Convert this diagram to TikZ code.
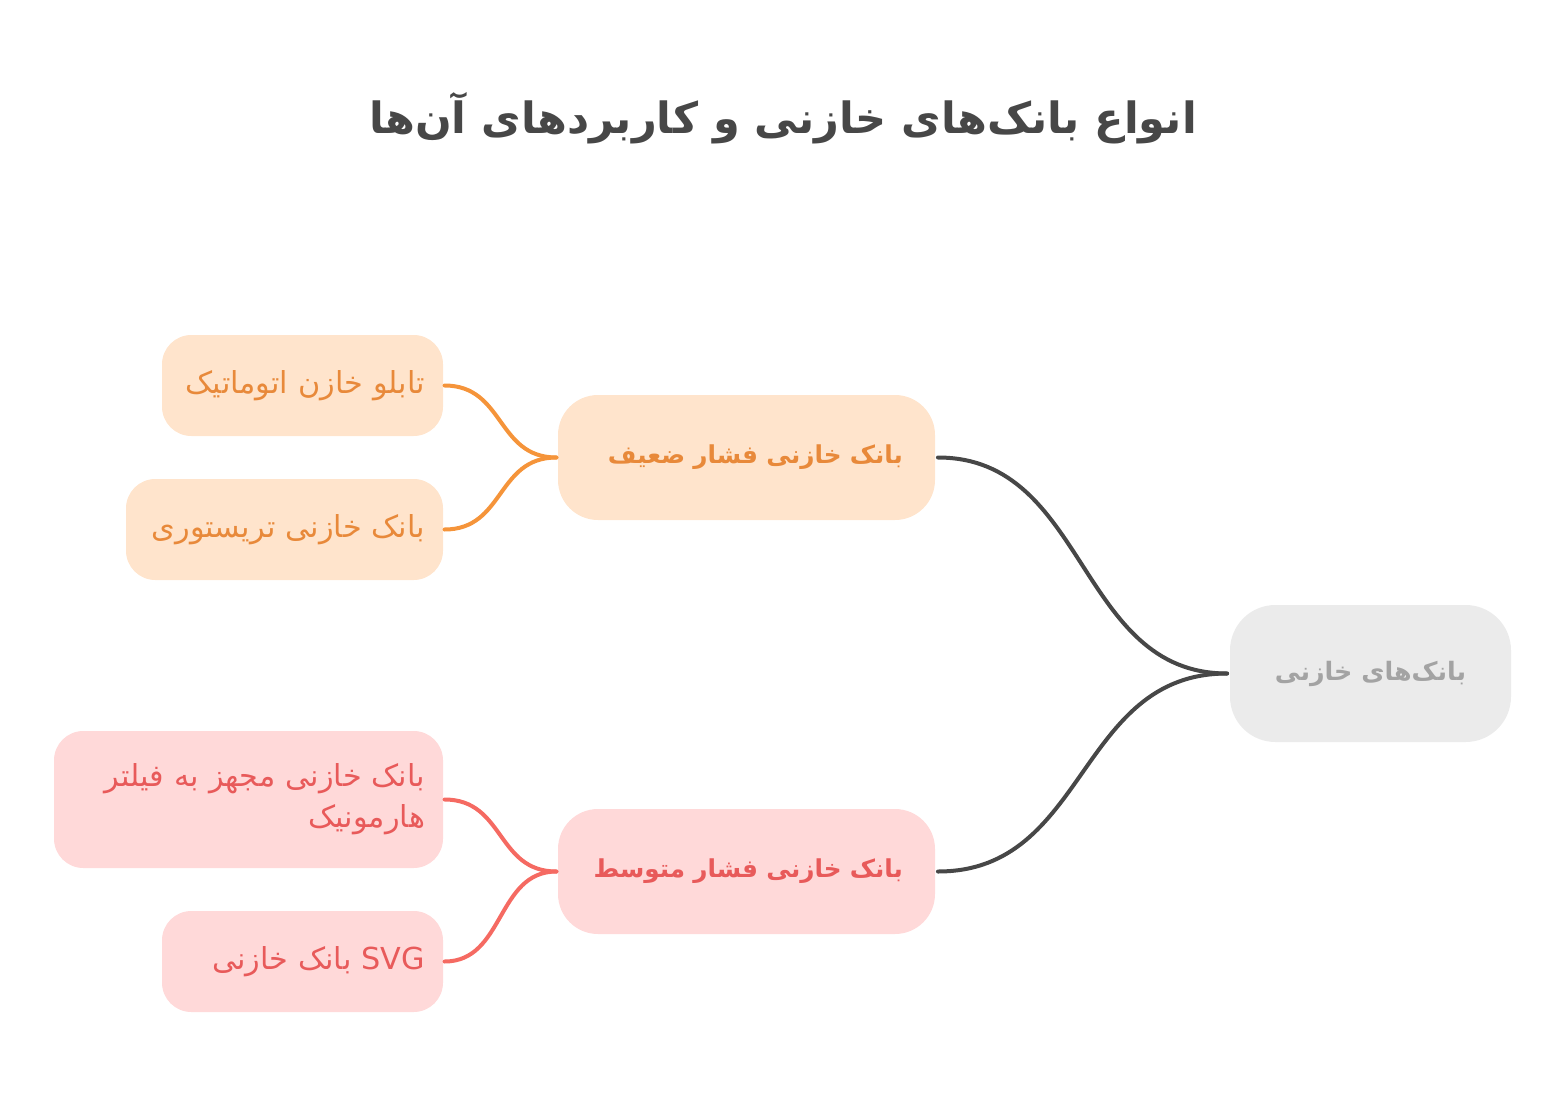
\documentclass[tikz,border=0pt]{standalone}
\usepackage{fontspec}
\TeXXeTstate=1
\newfontfamily\fa[Script=Arabic]{DejaVu Sans}
\definecolor{titlec}{HTML}{474747}
\definecolor{rootfill}{HTML}{EBEBEB}
\definecolor{roottext}{HTML}{A3A3A3}
\definecolor{ofill}{HTML}{FFE4CC}
\definecolor{otext}{HTML}{E8893A}
\definecolor{oline}{HTML}{F5943A}
\definecolor{rfill}{HTML}{FFD9D9}
\definecolor{rtext}{HTML}{E85A5A}
\definecolor{rline}{HTML}{F56A62}
\definecolor{dline}{HTML}{474747}
\tikzset{
  rootbox/.style={fill=rootfill, text=roottext, rounded corners=34pt, minimum width=210.75pt, minimum height=102.75pt, font=\fa\bfseries\fontsize{19}{23}\selectfont},
  midbox/.style={rounded corners=30pt, minimum width=282.75pt, minimum height=93.75pt, inner xsep=0pt, text width=234.75pt, align=right, font=\fa\bfseries\fontsize{18.5}{22}\selectfont},
  leafbox/.style={rounded corners=22pt, minimum height=75.75pt, inner xsep=13.5pt, align=right, font=\fa\fontsize{22.7}{31}\selectfont},
  obox/.style={fill=ofill, text=otext},
  rbox/.style={fill=rfill, text=rtext},
  link/.style={line width=3pt, line cap=round},
}
\begin{document}
\begin{tikzpicture}[x=0.75pt,y=-0.75pt]
\useasboundingbox (0,0) rectangle (1556,1095);
\node[text=titlec, font=\fa\bfseries\fontsize{32.3}{38}\selectfont] (title) at (783,118) {\beginR انواع بانک‌های خازنی و کاربردهای آن‌ها\endR};
\node[rootbox] (root) at (1370.5,673.5) {\beginR بانک‌های خازنی\endR};
\node[midbox, obox] (m1) at (746.5,457.5) {\beginR بانک خازنی فشار ضعیف\endR};
\node[midbox, rbox] (m2) at (746.5,871.5) {\beginR بانک خازنی فشار متوسط\endR};
\node[leafbox, obox, text width=183.75pt] (l1) at (302.5,385.5) {\beginR تابلو خازن اتوماتیک\endR};
\node[leafbox, obox, text width=210.75pt] (l2) at (284.5,529.5) {\beginR بانک خازنی تریستوری\endR};
\node[leafbox, rbox, text width=264.75pt, minimum height=102.75pt] (l3) at (248.5,799.5) {\beginR بانک خازنی مجهز به فیلتر\endR\\\beginR هارمونیک\endR};
\node[leafbox, rbox, text width=183.75pt] (l4) at (302.5,961.5) {\beginR\beginL SVG\endL{} بانک خازنی\endR};
\draw[link, dline] ([xshift=-2pt]root.west) .. controls +(-150,0) and +(150,0) .. ([xshift=2pt]m1.east);
\draw[link, dline] ([xshift=-2pt]root.west) .. controls +(-150,0) and +(150,0) .. ([xshift=2pt]m2.east);
\draw[link, oline] ([xshift=-1pt]m1.west) .. controls +(-60,0) and +(60,0) .. ([xshift=1pt]l1.east);
\draw[link, oline] ([xshift=-1pt]m1.west) .. controls +(-60,0) and +(60,0) .. ([xshift=1pt]l2.east);
\draw[link, rline] ([xshift=-1pt]m2.west) .. controls +(-60,0) and +(60,0) .. ([xshift=1pt]l3.east);
\draw[link, rline] ([xshift=-1pt]m2.west) .. controls +(-60,0) and +(60,0) .. ([xshift=1pt]l4.east);
\end{tikzpicture}
\end{document}
